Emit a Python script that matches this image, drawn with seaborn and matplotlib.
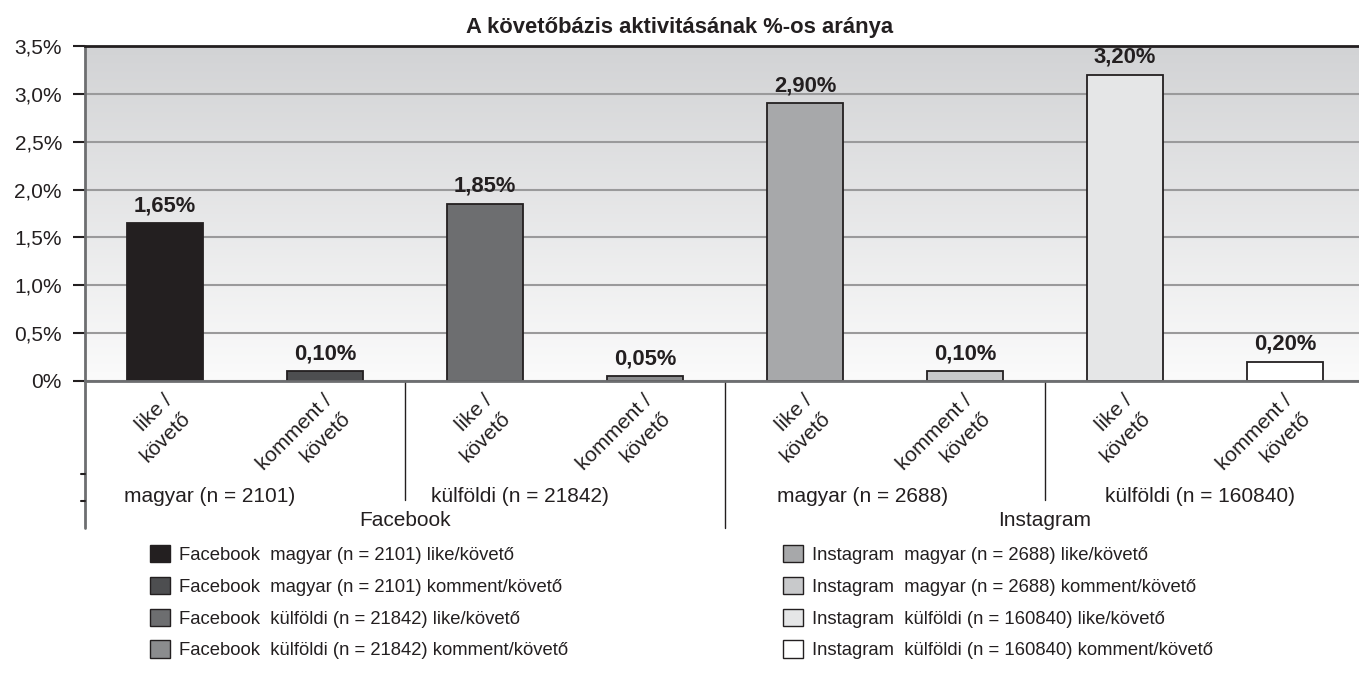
import numpy as np
import pandas as pd
import matplotlib
matplotlib.use('Agg')
import matplotlib.pyplot as plt
import seaborn as sns
from matplotlib.patches import Patch
from matplotlib.lines import Line2D
from matplotlib.colors import LinearSegmentedColormap
from matplotlib.transforms import blended_transform_factory, ScaledTranslation

sns.set_theme(style="white")
plt.rcParams['font.family'] = ['Liberation Sans', 'DejaVu Sans']

# --- data ---
platforms = ["Facebook", "Instagram"]
groups = ["magyar (n = 2101)", "külföldi (n = 21842)", "magyar (n = 2688)", "külföldi (n = 160840)"]
metrics = ["like/követő", "komment/követő"]
tick_labels = ["like /\nkövető", "komment /\nkövető"] * 4
values = [1.65, 0.10, 1.85, 0.05, 2.90, 0.10, 3.20, 0.20]
colors = ["#231f20", "#4d4e50", "#6d6e70", "#8b8c8e",
          "#a7a8aa", "#c8c9cb", "#e5e6e7", "#ffffff"]
y_ticks = [0, 0.5, 1.0, 1.5, 2.0, 2.5, 3.0, 3.5]
y_tick_labels = ["0%", "0,5%", "1,0%", "1,5%", "2,0%", "2,5%", "3,0%", "3,5%"]
title = "A követőbázis aktivitásának %-os aránya"

series = []
for gi, g in enumerate(groups):
    p = platforms[gi // 2]
    for m in metrics:
        series.append(f"{p}  {g} {m}")
df = pd.DataFrame({"series": series, "value": values})

# layout (label positions in slot units / axes units)
group_label_x = [0.28, 2.22, 4.36, 6.47]
platform_label_x = [1.5, 5.5]

W, H = 1359, 673
fig = plt.figure(figsize=(W / 100, H / 100), dpi=100)
ax = fig.add_axes([85 / W, 292 / H, 1280 / W, 335 / H])
ax.set_facecolor('none')

# gradient background
cmap = LinearSegmentedColormap.from_list("bg", ["#fbfbfb", "#d2d3d5"])
grad = np.linspace(0, 1, 256)[:, None]
ax.imshow(grad, extent=[-0.5, 7.5, 0, 3.5], origin='lower', aspect='auto',
          cmap=cmap, zorder=-2)

sns.barplot(data=df, x="series", y="value", hue="series", palette=colors,
            saturation=1, width=0.475, edgecolor="#231f20", linewidth=1.3,
            legend=False, ax=ax, zorder=2)

for c, v in zip(ax.containers, values):
    ax.bar_label(c, labels=[f"{v:.2f}".replace('.', ',') + '%'], padding=5,
                 fontsize=15.8, fontweight='bold', color='#231f20')

ax.set_xlim(-0.5, 7.5)
ax.set_ylim(0, 3.5)
ax.set_yticks(y_ticks)
ax.set_yticklabels(y_tick_labels, fontsize=15, color='#231f20')
ax.tick_params(axis='y', length=8.6, width=1.5, color='#231f20', pad=8, left=True)
ax.set_xticks(range(8))
ax.set_xticklabels(tick_labels, fontsize=15, color='#231f20')
ax.tick_params(axis='x', length=0, pad=3)
shift = ScaledTranslation(-2 / 100, -6 / 100, fig.dpi_scale_trans)
for lab in ax.get_xticklabels():
    lab.set_rotation(45)
    lab.set_rotation_mode('anchor')
    lab.set_ha('right')
    lab.set_va('top')
    lab.set_multialignment('right')
    lab.set_linespacing(1.4)
    lab.set_transform(lab.get_transform() + shift)
ax.set_xlabel("")
ax.set_ylabel("")

ax.yaxis.grid(True, color='#9a9a9b', linewidth=1.5, zorder=-1)
ax.set_axisbelow(True)
for s in ['right', 'left']:
    ax.spines[s].set_visible(False)
ax.spines['top'].set_color('#231f20')
ax.spines['top'].set_linewidth(2)
ax.spines['bottom'].set_color('#6d6e70')
ax.spines['bottom'].set_linewidth(2)

tr = blended_transform_factory(ax.transData, ax.transAxes)
# left axis line running down into the category area
ax.add_line(Line2D([-0.5, -0.5], [1, -0.44], transform=tr, color='#6d6e70',
                   linewidth=2, clip_on=False))
for yy in [-0.278, -0.358]:
    ax.add_line(Line2D([-0.525, -0.5], [yy, yy], transform=tr, color='#231f20',
                       linewidth=1.5, clip_on=False))
# group dividers
for xx in [1.5, 5.5]:
    ax.add_line(Line2D([xx, xx], [0, -0.355], transform=tr, color='#231f20',
                       linewidth=1, clip_on=False))
ax.add_line(Line2D([3.5, 3.5], [0, -0.44], transform=tr, color='#231f20',
                   linewidth=1, clip_on=False))

for xx, g in zip(group_label_x, groups):
    ax.text(xx, -0.345, g, transform=tr, ha='center', va='center',
            fontsize=15, color='#231f20')
for xx, p in zip(platform_label_x, platforms):
    ax.text(xx, -0.415, p, transform=tr, ha='center', va='center',
            fontsize=15, color='#231f20')

fig.text(0.5, 1 - 27 / H, title, ha='center', va='center', fontsize=15.8,
         fontweight='bold', color='#231f20')

# legends: Facebook left column, Instagram right column
handles = [Patch(facecolor=c, edgecolor='#231f20', linewidth=1) for c in colors]
leg_kw = dict(frameon=False, fontsize=13.3, handlelength=1.08, handleheight=1.08,
              handletextpad=0.5, labelspacing=0.69, borderpad=0, borderaxespad=0,
              labelcolor='#231f20')
leg1 = fig.legend(handles[:4], series[:4], loc='upper left',
                  bbox_to_anchor=(150 / W, 1 - 545 / H), **leg_kw)
leg2 = fig.legend(handles[4:], series[4:], loc='upper left',
                  bbox_to_anchor=(783 / W, 1 - 545 / H), **leg_kw)

fig.savefig('out.png', dpi=100)
